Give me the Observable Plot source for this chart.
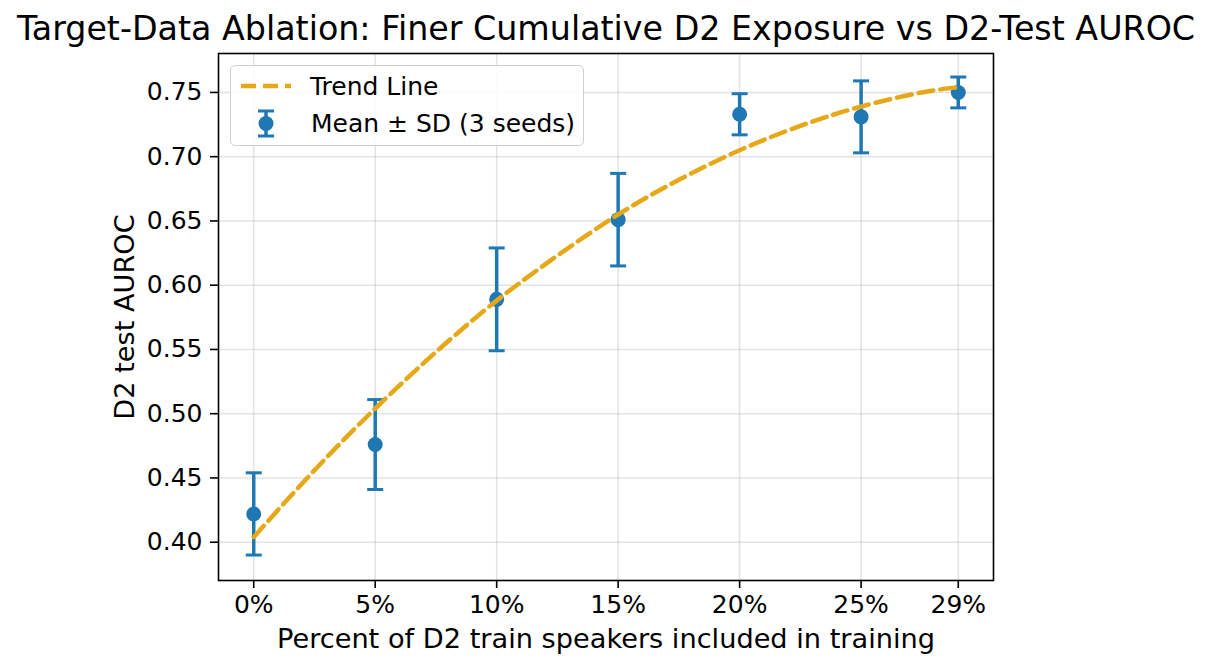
<!DOCTYPE html>
<html>
<head>
<meta charset="utf-8">
<script src="https://cdn.jsdelivr.net/npm/d3@7"></script>
<script src="https://cdn.jsdelivr.net/npm/@observablehq/plot@0.6"></script>
<style>
  html, body { margin: 0; padding: 0; background: #fff; }
  #wrap { position: relative; width: 1211px; height: 669px; font-family: "DejaVu Sans", sans-serif; }
  #legend { position: absolute; left: 230px; top: 65px; width: 352px; height: 79px;
    border: 1.5px solid #d0d0d0; border-radius: 5px; background: rgba(255,255,255,0.85); }
  #legend svg { position: absolute; left: 0; top: 0; }
</style>
</head>
<body>
<div id="wrap"></div>
<script>
const title = "Target-Data Ablation: Finer Cumulative D2 Exposure vs D2-Test AUROC";
const xLabel = "Percent of D2 train speakers included in training";
const yLabel = "D2 test AUROC";

const percents = [0, 5, 10, 15, 20, 25, 29];
const means    = [0.422, 0.476, 0.589, 0.651, 0.733, 0.731, 0.750];
const sds      = [0.032, 0.035, 0.040, 0.036, 0.016, 0.028, 0.012];

const trendX = [0, 2.5, 5, 7.5, 10, 12.5, 15, 17.5, 20, 22.5, 25, 27.5, 29];
const trendY = [0.404, 0.456, 0.504, 0.548, 0.588, 0.623, 0.655, 0.682, 0.705, 0.724, 0.739, 0.750, 0.754];

const xTicks = [0, 5, 10, 15, 20, 25, 29];
const yTicks = [0.40, 0.45, 0.50, 0.55, 0.60, 0.65, 0.70, 0.75];

const blue = "#1f77b4";
const orange = "#E6A817";

const points = percents.map((p, i) => ({x: p, m: means[i], lo: means[i] - sds[i], hi: means[i] + sds[i]}));
const trend = trendX.map((x, i) => ({x, y: trendY[i]}));

const capSymbol = {
  draw(context, size) {
    const r = Math.sqrt(size / Math.PI);
    context.moveTo(-r, 0);
    context.lineTo(r, 0);
  }
};

const chart = Plot.plot({
  width: 1211,
  height: 669,
  marginLeft: 218,
  marginRight: 218,
  marginTop: 53,
  marginBottom: 89,
  style: {fontFamily: "DejaVu Sans, sans-serif", fontSize: "25px", color: "#000", background: "#fff"},
  x: {domain: [-1.45, 30.45]},
  y: {domain: [0.3702, 0.7803]},
  marks: [
    Plot.gridX(xTicks, {stroke: "#b0b0b0", strokeOpacity: 0.35, strokeWidth: 1.5}),
    Plot.gridY(yTicks, {stroke: "#b0b0b0", strokeOpacity: 0.35, strokeWidth: 1.5}),
    Plot.axisX({ticks: xTicks, tickFormat: d => d + "%", tickSize: 8, tickPadding: 7, strokeWidth: 1.6, fontSize: 25, label: null}),
    Plot.axisY({ticks: yTicks, tickFormat: d3.format(".2f"), tickSize: 8, tickPadding: 8, strokeWidth: 1.6, fontSize: 25, label: null}),
    Plot.ruleX(points, {x: "x", y1: "lo", y2: "hi", stroke: blue, strokeWidth: 3.5}),
    Plot.dot(points, {x: "x", y: "lo", symbol: capSymbol, r: 8, stroke: blue, strokeWidth: 3, fill: "none"}),
    Plot.dot(points, {x: "x", y: "hi", symbol: capSymbol, r: 8, stroke: blue, strokeWidth: 3, fill: "none"}),
    Plot.dot(points, {x: "x", y: "m", r: 7.5, fill: blue, stroke: "none"}),
    Plot.line(trend, {x: "x", y: "y", curve: "natural", stroke: orange, strokeWidth: 4.5, strokeDasharray: "15,7"}),
    Plot.frame({stroke: "#000", strokeWidth: 1.6}),
    Plot.text([title], {frameAnchor: "top", dy: -14, fontSize: 33.3, lineAnchor: "bottom", fill: "#000"}),
    Plot.text([xLabel], {frameAnchor: "bottom", dy: 67, fontSize: 27.2, lineAnchor: "bottom", fill: "#000"}),
    Plot.text([yLabel], {frameAnchor: "left", dx: -85, rotate: -90, textAnchor: "middle", fontSize: 27.2, lineAnchor: "bottom", fill: "#000"})
  ]
});

const wrap = document.getElementById("wrap");
wrap.appendChild(chart);

const legend = document.createElement("div");
legend.id = "legend";
legend.innerHTML = `
<svg width="352" height="79" xmlns="http://www.w3.org/2000/svg" font-family="DejaVu Sans, sans-serif" font-size="25">
  <line x1="10" y1="20" x2="60" y2="20" stroke="${orange}" stroke-width="4.5" stroke-dasharray="15,7"/>
  <text x="79" y="28.5" fill="#000">Trend Line</text>
  <line x1="35" y1="45" x2="35" y2="70" stroke="${blue}" stroke-width="3.5"/>
  <line x1="27" y1="45" x2="43" y2="45" stroke="${blue}" stroke-width="3"/>
  <line x1="27" y1="70" x2="43" y2="70" stroke="${blue}" stroke-width="3"/>
  <circle cx="35" cy="57.5" r="7.5" fill="${blue}"/>
  <text x="80" y="66" fill="#000">Mean ± SD (3 seeds)</text>
</svg>`;
wrap.appendChild(legend);
</script>
</body>
</html>
